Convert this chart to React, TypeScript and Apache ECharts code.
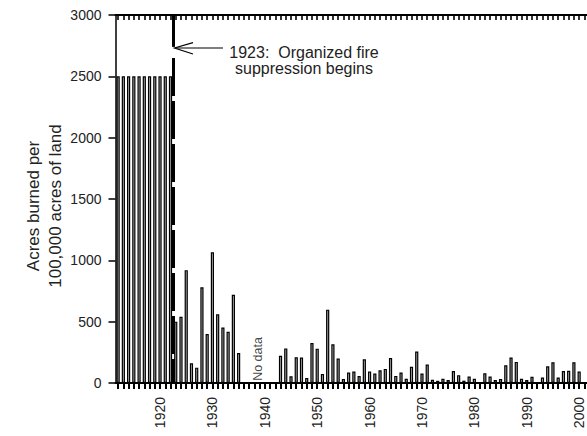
import React, { useEffect, useRef } from "react";
import * as echarts from "echarts";

const FIRST_YEAR = 1912;
const LAST_YEAR = 2001;
const years: string[] = [];
for (let y = FIRST_YEAR; y <= LAST_YEAR; y++) years.push(String(y));

// Acres burned per 100,000 acres of land (null = no data)
const preSuppression = [2500, 2500, 2500, 2500, 2500, 2500, 2500, 2500, 2500, 2500, 2500]; // 1912-1922
const burned1923to1935 = [500, 540, 920, 160, 125, 780, 400, 1065, 560, 453, 418, 720, 245];
const noData1936to1942 = [null, null, null, null, null, null, null];
const burned1943to1969 = [222, 282, 55, 210, 207, 41, 326, 280, 73, 598, 315, 199, 33, 85, 93, 57, 193, 93, 77, 103, 115, 203, 58, 86, 34, 132, 256];
const burned1970to2001 = [78, 151, 26, 18, 35, 24, 97, 64, 19, 52, 34, 5, 80, 52, 24, 32, 145, 208, 172, 34, 24, 50, 5, 45, 136, 169, 44, 97, 100, 169, 94, null];

const burned = [...preSuppression, ...burned1923to1935, ...noData1936to1942, ...burned1943to1969, ...burned1970to2001];

const labelYears = [1920, 1930, 1940, 1950, 1960, 1970, 1980, 1990, 2000];
const yMin = 0;
const yMax = 3000;
const yStep = 500;

const suppressionBoundary = 1922.5;
const noDataPoint = [1938.7, 196];

const FONT = "'Liberation Sans', Arial, Helvetica, sans-serif";

export default function App() {
  const ref = useRef<HTMLDivElement>(null);
  useEffect(() => {
    const chart = echarts.init(ref.current!, null, { renderer: "svg" });
    chart.setOption({
      animation: false,
      backgroundColor: "#ffffff",
      grid: { left: 115.5, right: -3.25, top: 15, bottom: 53 },
      xAxis: [
        {
          type: "category",
          data: years,
          position: "bottom",
          boundaryGap: true,
          axisLine: { show: true, lineStyle: { color: "#000", width: 2 } },
          axisTick: { show: true, alignWithLabel: true, interval: 0, length: 6, lineStyle: { color: "#000", width: 2 } },
          axisLabel: {
            show: true,
            interval: (_i: number, v: string) => labelYears.includes(Number(v)),
            rotate: 90,
            margin: 14,
            fontSize: 14,
            color: "#222",
            fontFamily: FONT,
          },
          splitLine: { show: false },
        },
        {
          type: "category",
          data: years,
          position: "top",
          boundaryGap: true,
          axisLine: { show: true, lineStyle: { color: "#000", width: 2 } },
          axisTick: { show: true, inside: true, alignWithLabel: true, interval: 0, length: 5, lineStyle: { color: "#000", width: 1.6 } },
          axisLabel: { show: false },
          splitLine: { show: false },
        },
        { type: "value", min: 1911.5, max: 2001.5, show: false, splitLine: { show: false } },
      ],
      yAxis: {
        type: "value",
        min: yMin,
        max: yMax,
        interval: yStep,
        axisLine: { show: true, lineStyle: { color: "#000", width: 1.5 } },
        axisTick: { show: true, inside: false, length: 7, lineStyle: { color: "#000", width: 1.5 } },
        axisLabel: {
          show: true,
          formatter: (v: number) => String(v),
          fontSize: 14,
          margin: 14,
          color: "#222",
          fontFamily: FONT,
        },
        splitLine: { show: false },
      },
      series: [
        {
          type: "bar",
          xAxisIndex: 0,
          data: burned,
          barWidth: 3.2,
          itemStyle: { color: "#adadad", borderColor: "#000", borderWidth: 1.2 },
        },
        {
          type: "scatter",
          xAxisIndex: 2,
          data: [noDataPoint],
          symbolSize: 0,
          label: {
            show: true,
            formatter: "No data",
            position: "inside",
            rotate: 90,
            fontSize: 12.5,
            color: "#111",
            fontFamily: FONT,
          },
          markLine: {
            silent: true,
            symbol: ["none", "none"],
            label: { show: false },
            lineStyle: { color: "#000", width: 3, type: "solid" },
            data: [
              [{ coord: [suppressionBoundary, 3000], lineStyle: { type: "solid", color: "#000", width: 3 } }, { coord: [suppressionBoundary, 2740] }],
              [{ coord: [suppressionBoundary, 2650], lineStyle: { type: [38, 5], color: "#000", width: 3 } }, { coord: [suppressionBoundary, 0] }],
            ],
          },
        },
      ],
      graphic: [
        {
          type: "text",
          x: 44,
          y: 206,
          rotation: Math.PI / 2,
          style: {
            text: "Acres burned per\n100,000 acres of land",
            textAlign: "center",
            textVerticalAlign: "middle",
            align: "center",
            verticalAlign: "middle",
            font: `17px ${FONT}`,
            lineHeight: 22,
            fill: "#222",
          },
        },
        {
          type: "text",
          x: 304,
          y: 60.4,
          style: {
            text: "1923:  Organized fire\nsuppression begins",
            textAlign: "center",
            textVerticalAlign: "middle",
            align: "center",
            verticalAlign: "middle",
            font: `16px ${FONT}`,
            lineHeight: 16,
            fill: "#222",
          },
        },
        {
          type: "line",
          shape: { x1: 175, y1: 48, x2: 223, y2: 48 },
          style: { stroke: "#000", lineWidth: 1.2 },
        },
        {
          type: "polyline",
          shape: { points: [[193, 42.7], [174.5, 48], [193, 54]] },
          style: { stroke: "#000", lineWidth: 1.2, fill: "none" },
        },
      ],
    });
    return () => chart.dispose();
  }, []);
  return <div ref={ref} style={{ position: "fixed", left: 0, top: 0, width: 587, height: 436 }} />;
}
